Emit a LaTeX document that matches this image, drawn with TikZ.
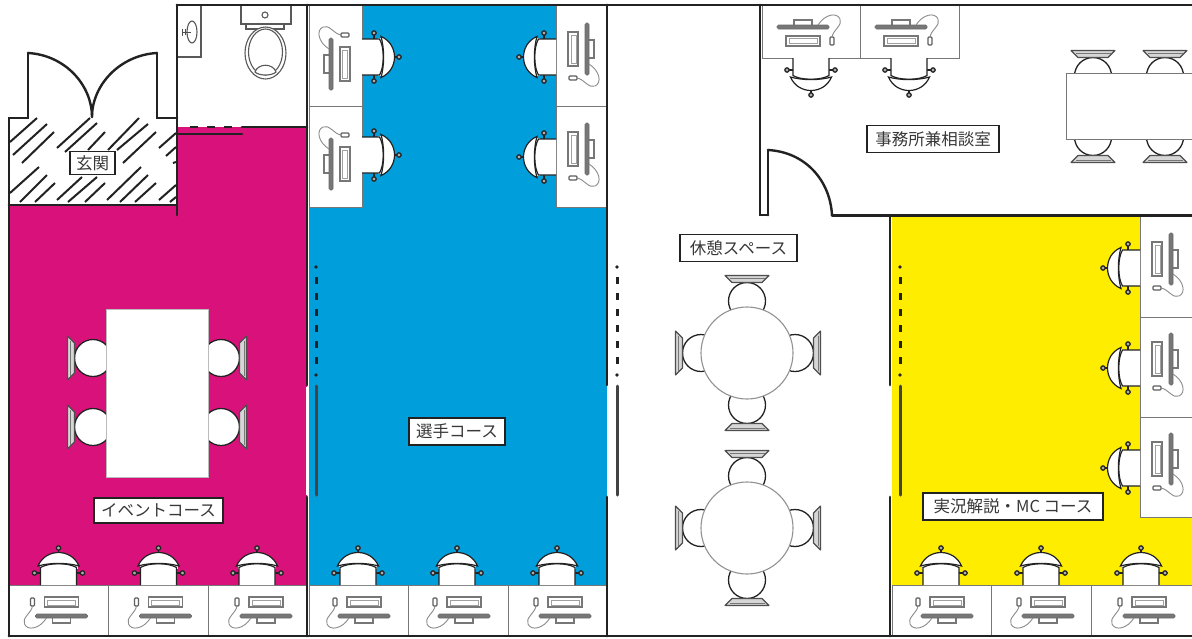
\documentclass[tikz,border=0pt]{standalone}
\usepackage{fontspec}
\newfontfamily\jpfont{Noto Sans CJK JP}
\definecolor{wallc}{HTML}{222222}
\definecolor{magc}{HTML}{D9117A}
\definecolor{bluec}{HTML}{009FDB}
\definecolor{yelc}{HTML}{FFED00}
\definecolor{itemc}{HTML}{777777}
\tikzset{
  wall/.style={draw=wallc,line width=2.8pt,line cap=round,line join=miter},
  doorarc/.style={draw=wallc,line width=2.4pt,line cap=round},
  slideline/.style={draw=wallc!85,line width=3pt,line cap=round},
  dots/.style={draw=wallc,line width=3pt,dash pattern=on 7pt off 9pt},
  hatch/.style={draw=wallc,line width=2pt},
  desk/.style={draw=itemc,line width=.9pt,fill=white},
  chairline/.style={draw=wallc,line width=1.2pt,fill=white},
  item/.style={draw=itemc,line width=1.1pt,fill=white},
  lbl/.style={draw=wallc,line width=1.6pt,fill=white,inner sep=0pt,text=wallc!90,
    font=\jpfont\fontsize{16.5}{17}\selectfont},
  fixture/.style={draw=wallc!75,line width=1.1pt,fill=white}
}
% x, y of chair/desk edge; rotation; item offset
\newcommand{\wstation}[4]{%
\begin{scope}[shift={(#1,#2)},rotate=#3]
  \draw[draw=wallc,line width=1.2pt] (-17,-12) -- (-24,-12) (17,-12) -- (24,-12) (0,-30) -- (0,-37);
  \draw[chairline,fill=itemc!60] (-24,-12) circle (2.2);
  \draw[chairline,fill=itemc!60] (24,-12) circle (2.2);
  \draw[chairline,fill=itemc!60] (0,-37) circle (2.2);
  \fill[white] (-19,-16) rectangle (19,-21);
  \draw[chairline] (-18,0) -- (-18,-17.5) .. controls (-10,-22.5) and (10,-22.5) .. (18,-17.5) -- (18,0);
  \draw[chairline] (-20.5,-19) .. controls (-13,-37) and (13,-37) .. (20.5,-19) .. controls (8,-22.5) and (-8,-22.5) .. cycle;
  \begin{scope}[xshift=#4]
    \draw[item] (-17,12) rectangle (17,22);
    \draw[draw=itemc!70,line width=.8pt] (-14,15) rectangle (14,20);
    \draw[item] (-9,32) rectangle (9,38);
    \draw[draw=itemc!90!black,line width=.7pt,fill=itemc,rounded corners=1.5pt] (-26,29) rectangle (26,33);
    \draw[item,rounded corners=1pt,draw=itemc!80!black] (-31,13) rectangle (-27,21);
    \draw[draw=itemc!85,line width=.9pt] (-29,21) .. controls (-30,28) and (-40,33) .. (-37,39) .. controls (-34,46) and (-22,44) .. (-15,33);
  \end{scope}
\end{scope}}
% seat centre x, y; rotation (0 = back on top)
\newcommand{\dinechair}[3]{%
\begin{scope}[shift={(#1,#2)},rotate=#3]
  \draw[chairline,line width=1.3pt] (0,0) circle (18.5);
  \draw[draw=wallc!80,line width=1.1pt,fill=white!70!itemc,line join=round] (-22,-25.5) -- (22,-25.5) -- (15,-18.5) -- (-15,-18.5) -- cycle;
  \draw[draw=itemc,line width=.8pt] (-17.5,-23) -- (17.5,-23);
\end{scope}}
\begin{document}
\begin{tikzpicture}[x=1pt,y=-1pt]
\useasboundingbox (0,0) rectangle (1192,638);
\fill[white] (0,0) rectangle (1192,638);
% colour floors
\fill[magc] (177,127) -- (307,127) -- (307,585) -- (9,585) -- (9,205) -- (177,205) -- cycle;
\fill[bluec] (309,5) rectangle (607,585);
\fill[yelc] (892,216) rectangle (1192,585);
\fill[white] (1140,216) rectangle (1192,517);
% entrance hatching
\draw[hatch]
 (10,142)--(37,118) (13,155)--(47,124) (22,163)--(54,132)
 (57,148)--(90,118) (65,152)--(97,123) (88,150)--(105,132)
 (108,150)--(139,118) (117,150)--(148,124) (123,163)--(156,132)
 (159,148)--(176,133) (166,156)--(176,147) (173,163)--(176,162)
 (10,193)--(39,167) (20,202)--(47,175) (35,202)--(55,183)
 (57,200)--(82,177) (68,202)--(97,177) (85,202)--(105,183)
 (107,200)--(141,167) (120,202)--(148,175) (135,202)--(156,183)
 (159,200)--(176,185) (170,202)--(176,197);
% desks
\foreach \a/\b in {9/108,108/208,208/307,309/408,408/508,508/607,892/991,991/1091,1091/1196}
  \draw[desk] (\a,585) rectangle (\b,636);
\draw[desk] (309,5) rectangle (362,106);
\draw[desk] (309,106) rectangle (362,207);
\draw[desk] (556,5) rectangle (607,106);
\draw[desk] (556,106) rectangle (607,207);
\draw[desk] (1140,216) rectangle (1196,317);
\draw[desk] (1140,317) rectangle (1196,417);
\draw[desk] (1140,417) rectangle (1196,517);
\draw[desk] (762,5) rectangle (860,58);
\draw[desk] (860,5) rectangle (959,58);
% workstations
\wstation{58.5}{585}{0}{3}
\wstation{158.5}{585}{0}{7}
\wstation{257}{585}{0}{9}
\wstation{358}{585}{0}{6}
\wstation{457}{585}{0}{7}
\wstation{557}{585}{0}{8}
\wstation{941}{585}{0}{6}
\wstation{1041}{585}{0}{7}
\wstation{1141}{585}{0}{8}
\wstation{362}{57}{-90}{7}
\wstation{362}{155}{-90}{9}
\wstation{556}{57}{90}{8}
\wstation{556}{157}{90}{8}
\wstation{1140}{268}{90}{9}
\wstation{1140}{368}{90}{9}
\wstation{1140}{468}{90}{9}
\wstation{811}{58}{180}{8}
\wstation{909}{58}{180}{8}
% magenta room table
\dinechair{93}{358}{90}
\dinechair{93}{427}{90}
\dinechair{221}{358}{-90}
\dinechair{221}{427}{-90}
\fill[white,draw=itemc!50,line width=.6pt] (106,309) rectangle (208,477);
% office table
\dinechair{1093}{76}{0}
\dinechair{1165}{76}{0}
\dinechair{1093}{137}{180}
\dinechair{1165}{137}{180}
\draw[desk] (1066,73) rectangle (1196,139);
% round tables
\foreach \cy in {353,528}{
  \dinechair{747}{\cy-52}{0}
  \dinechair{747}{\cy+52}{180}
  \dinechair{701}{\cy}{90}
  \dinechair{795}{\cy}{-90}
  \draw[draw=itemc!80,line width=1.1pt,fill=white] (747,\cy) circle (46);
}
% toilet
\draw[fixture] (177,5) rectangle (201,57);
\draw[fixture] (192,32) ellipse (5 and 11);
\draw[draw=wallc!80,line width=1pt] (182,32) -- (191,32) (182,28.5) -- (182,35.5) (185,29) -- (185,35);
\draw[fixture] (246,24) rectangle (284,29);
\draw[fixture] (241,5) rectangle (291,24);
\draw[fixture] (265,15) circle (3);
\draw[fixture] (265.5,53) ellipse (20.5 and 26);
\draw[fixture] (265.5,52) ellipse (17 and 23);
\draw[fixture] (255,72) .. controls (258,63) and (273,63) .. (276,72) .. controls (272,76) and (259,76) .. cycle;
% walls
\draw[wall] (177,5) -- (1196,5);
\draw[wall] (9,636) -- (1196,636);
\draw[wall] (9,636) -- (9,118) -- (28,118) -- (28,53);
\draw[wall] (157,53) -- (157,118) -- (177,118);
\draw[wall] (177,5) -- (177,215);
\draw[wall] (9,205) -- (177,205);
\draw[wall] (242,127) -- (307,127);
\draw[wall] (177,134) -- (242,134);
\draw[draw=wallc,line width=2.4pt,dash pattern=on 8pt off 9pt] (190,127) -- (240,127);
\draw[wall] (307,5) -- (307,385) (307,497) -- (307,636);
\draw[wall] (607,5) -- (607,385) (607,497) -- (607,636);
\draw[wall] (890,216) -- (890,385) (890,497) -- (890,636);
\draw[white,line width=2pt] (306.5,387) -- (306.5,495);
\draw[white,line width=2pt] (608,387) -- (608,495);
\draw[wall] (1196,215.5) -- (832,215.5);
\draw[wall] (768,215) -- (768,150);
\draw[wall] (760,5) -- (760,215) -- (768,215);
% door swings
\draw[doorarc] (28,53) .. controls (65,55) and (92,85) .. (92,117);
\draw[doorarc] (157,53) .. controls (120,55) and (92,85) .. (92,117);
\draw[doorarc] (768,150) .. controls (805,152) and (830,180) .. (832,215);
% sliding doors
\foreach \wx in {316,617,900}{
  \fill[wallc] (\wx,267) circle (1.9);
  \fill[wallc] (\wx,375) circle (1.9);
  \draw[dots] (\wx,277) -- (\wx,368);
  \draw[slideline] (\wx,386) -- (\wx,495);
}
% labels
\node[lbl,minimum width=45pt,minimum height=23pt] (genkan) at (92.5,163) {玄関};
\node[lbl,minimum width=129pt,minimum height=25pt] (event) at (158.5,510.5) {イベントコース};
\node[lbl,minimum width=96pt,minimum height=27pt] (senshu) at (457,431.5) {選手コース};
\node[lbl,minimum width=117pt,minimum height=27pt] (kyukei) at (738.5,248) {休憩スペース};
\node[lbl,minimum width=132pt,minimum height=27pt] (jimu) at (933,139) {事務所兼相談室};
\node[lbl,minimum width=180pt,minimum height=27pt] (jikkyo) at (1013,506.5) {実況解説・MC コース};
\end{tikzpicture}
\end{document}
